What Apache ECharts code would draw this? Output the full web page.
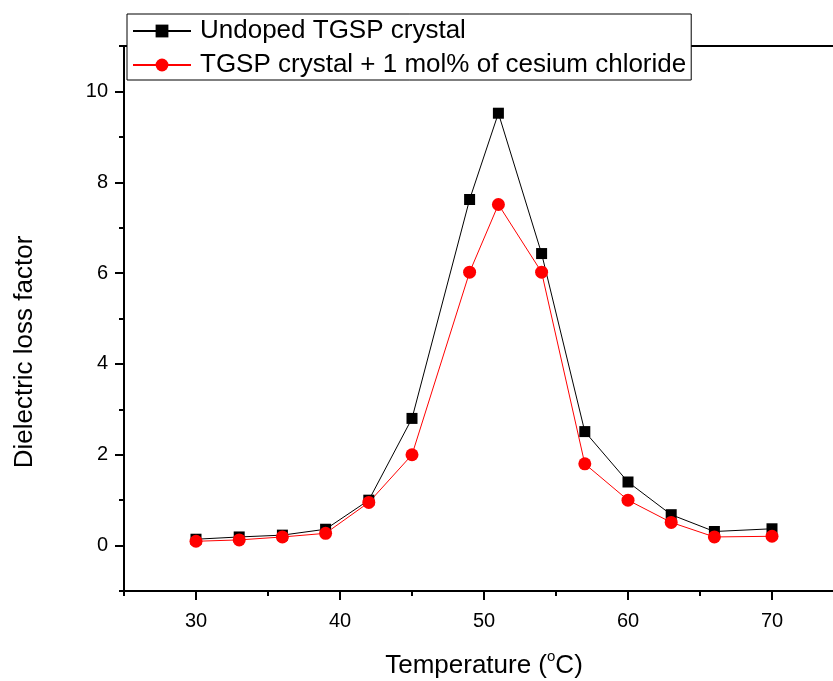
<!DOCTYPE html>
<html>
<head>
<meta charset="utf-8">
<script src="https://cdn.jsdelivr.net/npm/echarts@6/dist/echarts.min.js"></script>
<style>
  html, body { margin: 0; padding: 0; background: #fff; }
  #chart { width: 833px; height: 681px; }
</style>
</head>
<body>
<div id="chart"></div>
<script>
// temperatures (°C)
const temps = [30, 33, 36, 39, 42, 45, 49, 51, 54, 57, 60, 63, 66, 70]
// dielectric loss factor
const undoped = [0.14, 0.19, 0.23, 0.36, 1.0, 2.8, 7.62, 9.52, 6.43, 2.51, 1.4, 0.68, 0.31, 0.37]
const doped = [0.095, 0.125, 0.19, 0.27, 0.95, 2.0, 6.02, 7.51, 6.02, 1.8, 1.0, 0.51, 0.19, 0.205]

const seriesNames = ['Undoped TGSP crystal', 'TGSP crystal + 1 mol% of cesium chloride']

const xMajor = [30, 40, 50, 60, 70]
const xMinor = [25, 35, 45, 55, 65, 75]
const yMajor = [0, 2, 4, 6, 8, 10]
const yMinor = [-1, 1, 3, 5, 7, 9, 11]

const font = "'Liberation Sans', Arial, sans-serif"

function pairs(xs, ys) {
  return xs.map((x, i) => [x, ys[i]])
}

let option = {
  textStyle: { fontFamily: font, color: '#000' },
  legend: {
    orient: 'vertical',
    left: 127,
    top: 14,
    padding: [4, 5, 2, 5],
    itemWidth: 58,
    itemHeight: 16,
    itemGap: 8,
    backgroundColor: '#fff',
    borderColor: '#000',
    borderWidth: 1,
    textStyle: { fontSize: 26, fontFamily: font, color: '#000', padding: [0, 0, 0, 4] },
    data: seriesNames,
  },
  grid: {
    // the frame runs past the right edge of the picture (x max 75 is cropped)
    left: 124,
    width: 720,
    top: 46,
    bottom: 90,
    outerBoundsMode: 'none',
    show: true,
    borderColor: '#000',
    borderWidth: 2,
    backgroundColor: 'transparent',
  },
  xAxis: [{
    type: 'value',
    min: 25,
    max: 75,
    position: 'bottom',
    name: '{t|Temperature (}{sup|o}{t|C)}',
    nameLocation: 'middle',
    nameGap: 58,
    nameTextStyle: {
      fontSize: 26,
      fontFamily: font,
      color: '#000',
      rich: {
        t: { fontSize: 26, fontFamily: font, color: '#000', lineHeight: 34 },
        sup: { fontSize: 15, fontFamily: font, color: '#000', verticalAlign: 'top', lineHeight: 4 }
      }
    },
    axisLine: { onZero: false, lineStyle: { color: '#000', width: 2 } },
    axisTick: { customValues: xMajor, length: 9, lineStyle: { color: '#000', width: 2 } },
    axisLabel: { customValues: xMajor, fontSize: 20, margin: 20, color: '#000', fontFamily: font },
    splitLine: { show: false },
  }, {
    type: 'value',
    min: 25,
    max: 75,
    position: 'bottom',
    axisLine: { show: false, onZero: false },
    axisTick: { customValues: xMinor, length: 5, lineStyle: { color: '#000', width: 2 } },
    axisLabel: { show: false },
    splitLine: { show: false },
  }],
  yAxis: [{
    type: 'value',
    min: -1,
    max: 11,
    position: 'left',
    name: 'Dielectric loss factor',
    nameLocation: 'middle',
    nameRotate: 90,
    nameGap: 86,
    nameTextStyle: { fontSize: 26, fontFamily: font, color: '#000', padding: [0, 67, 0, 0] },
    axisLine: { onZero: false, lineStyle: { color: '#000', width: 2 } },
    axisTick: { customValues: yMajor, length: 9, lineStyle: { color: '#000', width: 2 } },
    axisLabel: { customValues: yMajor, fontSize: 20, margin: 16, color: '#000', fontFamily: font },
    splitLine: { show: false },
  }, {
    type: 'value',
    min: -1,
    max: 11,
    position: 'left',
    axisLine: { show: false, onZero: false },
    axisTick: { customValues: yMinor, length: 5, lineStyle: { color: '#000', width: 2 } },
    axisLabel: { show: false },
    splitLine: { show: false },
  }],
  series: [{
    name: seriesNames[0],
    type: 'line',
    xAxisIndex: 0,
    yAxisIndex: 0,
    symbol: 'rect',
    symbolSize: 11,
    color: '#000',
    lineStyle: { color: '#000', width: 1 },
    itemStyle: { color: '#000' },
    data: pairs(temps, undoped),
  }, {
    name: seriesNames[1],
    type: 'line',
    xAxisIndex: 0,
    yAxisIndex: 0,
    symbol: 'circle',
    symbolSize: 13,
    color: '#ff0000',
    lineStyle: { color: '#ff0000', width: 1 },
    itemStyle: { color: '#ff0000' },
    data: pairs(temps, doped),
  }],
  animation: false,
}

const chart = echarts.init(document.getElementById('chart'))
chart.setOption(option)
</script>
</body>
</html>
